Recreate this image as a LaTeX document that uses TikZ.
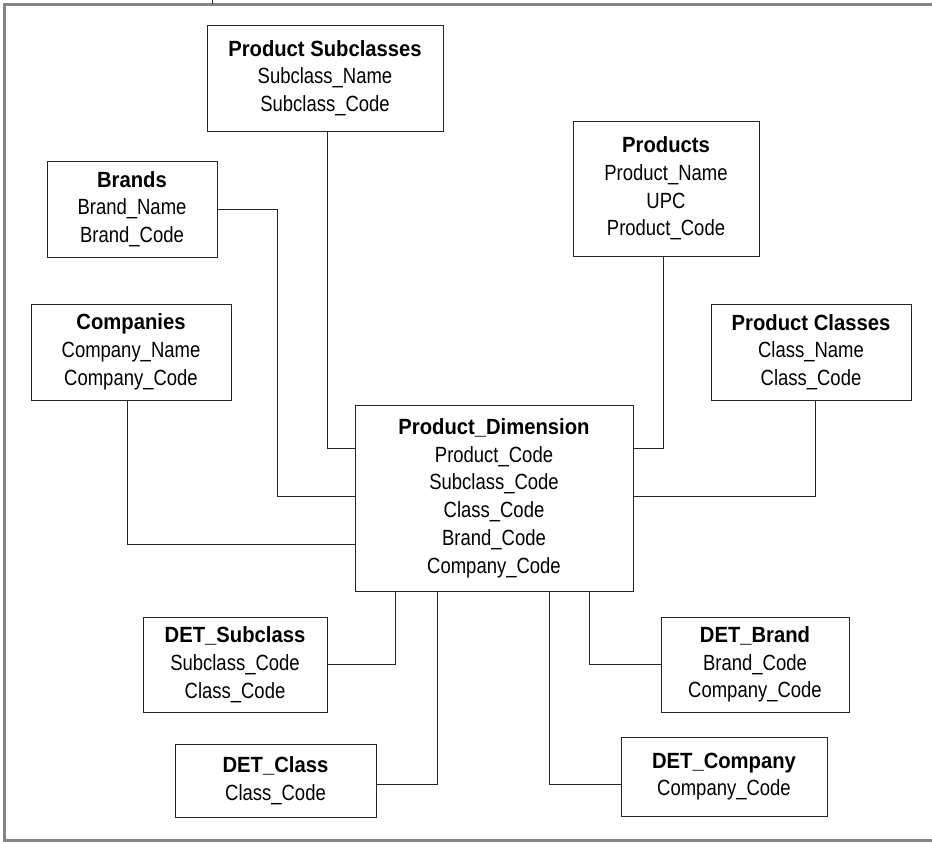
\documentclass[tikz,border=0pt]{standalone}
\usepackage{fontspec}
\setmainfont[FakeStretch=0.84,BoldFeatures={FakeStretch=0.92}]{Liberation Sans}
\definecolor{framegray}{HTML}{858585}
\definecolor{ink}{HTML}{262626}
\begin{document}
\begin{tikzpicture}[x=0.75pt,y=-0.75pt,
  tbl/.style 2 args={draw=ink, line width=0.75pt, inner sep=0pt, align=center,
    minimum width=#1*0.75pt, minimum height=#2*0.75pt,
    font=\fontsize{16.5}{20.8}\selectfont},
  link/.style={draw=ink, line width=0.75pt},
  frameline/.style={draw=framegray, line width=2.4pt}]
\useasboundingbox (0,0) rectangle (932,843);

% page frame
\draw[frameline] (932,4.5) -- (4.5,4.5) -- (4.5,840.5) -- (932,840.5);
\draw[link] (212,0) -- (212,3.5);

% tables
\node[tbl={236}{106}] (sub) at (325,78)
  {\textbf{Product Subclasses}\\Subclass\_Name\\Subclass\_Code};
\node[tbl={170}{96}] (brands) at (132,209)
  {\textbf{Brands}\\Brand\_Name\\Brand\_Code};
\node[tbl={200}{96}] (comp) at (131,352)
  {\textbf{Companies}\\Company\_Name\\Company\_Code};
\node[tbl={186}{135}] (prod) at (666,188.5)
  {\textbf{Products}\\Product\_Name\\UPC\\Product\_Code};
\node[tbl={200}{96}] (pcls) at (811,352)
  {\textbf{Product Classes}\\Class\_Name\\Class\_Code};
\node[tbl={278}{186}] (dim) at (494,498)
  {\textbf{Product\_Dimension}\\Product\_Code\\Subclass\_Code\\Class\_Code\\Brand\_Code\\Company\_Code};
\node[tbl={184}{95}] (dsub) at (235,664.5)
  {\textbf{DET\_Subclass}\\Subclass\_Code\\Class\_Code};
\node[tbl={201}{73}] (dcls) at (275.5,780.5)
  {\textbf{DET\_Class}\\Class\_Code};
\node[tbl={188}{95}] (dbr) at (755,664.5)
  {\textbf{DET\_Brand}\\Brand\_Code\\Company\_Code};
\node[tbl={206}{79}] (dcomp) at (724,776.5)
  {\textbf{DET\_Company}\\Company\_Code};

% joins into the dimension table
\draw[link] (sub.south -| 327,0) |- (dim.west |- 0,448);
\draw[link] (brands.east) -| (277,496) -- (dim.west |- 0,496);
\draw[link] (comp.south -| 127,0) |- (dim.west |- 0,544);
\draw[link] (prod.south -| 663,0) |- (dim.east |- 0,448);
\draw[link] (pcls.south -| 815,0) |- (dim.east |- 0,496);
\draw[link] (dsub.east) -| (dim.south -| 395,0);
\draw[link] (dcls.east |- 0,784) -| (dim.south -| 437,0);
\draw[link] (dbr.west) -| (dim.south -| 589,0);
\draw[link] (dcomp.west |- 0,784) -| (dim.south -| 549,0);
\end{tikzpicture}
\end{document}
